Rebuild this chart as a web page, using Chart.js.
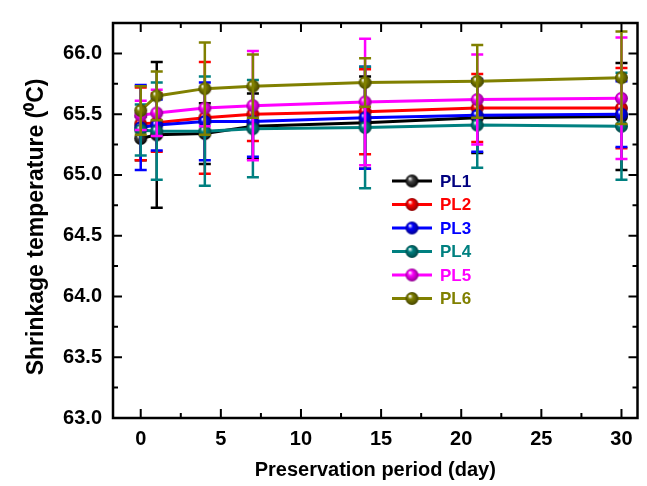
<!DOCTYPE html>
<html>
<head>
<meta charset="utf-8">
<script src="https://cdn.jsdelivr.net/npm/chart.js@4.4.1/dist/chart.umd.min.js"></script>
<style>
  html, body { margin: 0; padding: 0; background: #fff; }
</style>
</head>
<body>
<canvas id="chart" width="647" height="486"></canvas>
<script>
// data
const days = [0, 1, 4, 7, 14, 21, 30];
const names = ["PL1", "PL2", "PL3", "PL4", "PL5", "PL6"];

const pl1 = [65.30, 65.33, 65.34, 65.40, 65.43, 65.47, 65.48];
const pl2 = [65.42, 65.43, 65.47, 65.50, 65.52, 65.55, 65.55];
const pl3 = [65.39, 65.41, 65.44, 65.44, 65.47, 65.49, 65.50];
const pl4 = [65.37, 65.36, 65.36, 65.38, 65.39, 65.41, 65.40];
const pl5 = [65.49, 65.51, 65.55, 65.57, 65.60, 65.62, 65.63];
const pl6 = [65.53, 65.65, 65.71, 65.73, 65.76, 65.77, 65.80];

// error bars (+/-)
const pl1Err = [0.18, 0.60, 0.25, 0.27, 0.38, 0.29, 0.44];
const pl2Err = [0.30, 0.24, 0.46, 0.22, 0.35, 0.28, 0.33];
const pl3Err = [0.35, 0.21, 0.32, 0.29, 0.42, 0.30, 0.27];
const pl4Err = [0.21, 0.40, 0.45, 0.40, 0.50, 0.35, 0.44];
const pl5Err = [0.12, 0.19, 0.15, 0.45, 0.52, 0.37, 0.50];
const pl6Err = [0.20, 0.20, 0.38, 0.26, 0.20, 0.30, 0.38];

const xTicks = [0, 5, 10, 15, 20, 25, 30];
const yTicks = [63.0, 63.5, 64.0, 64.5, 65.0, 65.5, 66.0];

const values = [pl1, pl2, pl3, pl4, pl5, pl6];
const errors = [pl1Err, pl2Err, pl3Err, pl4Err, pl5Err, pl6Err];
const colors = ["#000000", "#ff0000", "#0000ff", "#008080", "#ff00ff", "#808000"];
const labelColors = ["#000080", "#ff0000", "#0000ff", "#008080", "#ff00ff", "#808000"];

const FONT = "'Liberation Sans', Arial, sans-serif";

// shaded ball marker
function darker(hex, f) {
  const n = parseInt(hex.slice(1), 16);
  const r = Math.round(((n >> 16) & 255) * f);
  const g = Math.round(((n >> 8) & 255) * f);
  const b = Math.round((n & 255) * f);
  return `rgb(${r},${g},${b})`;
}

function makeBall(color, r) {
  const c = document.createElement("canvas");
  const s = Math.ceil(r * 2 + 2);
  c.width = s;
  c.height = s;
  const g = c.getContext("2d");
  const cx = s / 2, cy = s / 2;
  const grad = g.createRadialGradient(cx - r * 0.35, cy - r * 0.4, r * 0.05, cx, cy, r);
  grad.addColorStop(0, "#ffffff");
  grad.addColorStop(0.35, color === "#000000" ? "#444444" : color);
  grad.addColorStop(1, darker(color, 0.55));
  g.fillStyle = grad;
  g.beginPath();
  g.arc(cx, cy, r, 0, Math.PI * 2);
  g.fill();
  return c;
}

const balls = colors.map(c => makeBall(c, 6.5));

// error bars, drawn right after each series
const errorBars = {
  id: "errorBars",
  afterDatasetDraw(chart, args) {
    const ds = chart.data.datasets[args.index];
    const y = chart.scales.y;
    const ctx = chart.ctx;
    ctx.save();
    ctx.strokeStyle = ds.borderColor;
    ctx.lineWidth = 2.5;
    args.meta.data.forEach((pt, i) => {
      const v = ds.data[i].y;
      const e = ds.errors[i];
      const top = y.getPixelForValue(v + e);
      const bot = y.getPixelForValue(v - e);
      ctx.beginPath();
      ctx.moveTo(pt.x, top);
      ctx.lineTo(pt.x, bot);
      ctx.moveTo(pt.x - 6, top);
      ctx.lineTo(pt.x + 6, top);
      ctx.moveTo(pt.x - 6, bot);
      ctx.lineTo(pt.x + 6, bot);
      ctx.stroke();
    });
    ctx.restore();
  }
};

// box frame with inward ticks on all four sides
const frame = {
  id: "frame",
  afterDatasetsDraw(chart) {
    const { ctx, chartArea: a, scales } = chart;
    const xs = scales.x, ys = scales.y;
    ctx.save();
    ctx.strokeStyle = "#000";
    ctx.lineWidth = 2;
    ctx.beginPath();
    xs.ticks.forEach((t, i) => {
      const px = xs.getPixelForValue(t.value);
      ctx.moveTo(px, a.bottom); ctx.lineTo(px, a.bottom - 9);
      ctx.moveTo(px, a.top); ctx.lineTo(px, a.top + 9);
      if (i < xs.ticks.length - 1) {
        const mx = xs.getPixelForValue((t.value + xs.ticks[i + 1].value) / 2);
        ctx.moveTo(mx, a.bottom); ctx.lineTo(mx, a.bottom - 5);
        ctx.moveTo(mx, a.top); ctx.lineTo(mx, a.top + 5);
      }
    });
    ys.ticks.forEach((t, i) => {
      const py = ys.getPixelForValue(t.value);
      ctx.moveTo(a.left, py); ctx.lineTo(a.left + 9, py);
      ctx.moveTo(a.right, py); ctx.lineTo(a.right - 9, py);
      const next = i < ys.ticks.length - 1 ? ys.ticks[i + 1].value : t.value + 0.5;
      const my = ys.getPixelForValue((t.value + next) / 2);
      if (my > a.top) {
        ctx.moveTo(a.left, my); ctx.lineTo(a.left + 5, my);
        ctx.moveTo(a.right, my); ctx.lineTo(a.right - 5, my);
      }
    });
    ctx.stroke();
    ctx.lineWidth = 2.5;
    ctx.strokeRect(a.left, a.top, a.right - a.left, a.bottom - a.top);
    ctx.restore();
  }
};

// legend inside the plot
const innerLegend = {
  id: "innerLegend",
  afterDraw(chart) {
    const ctx = chart.ctx;
    const x0 = 392, y0 = 181, step = 23.5;
    ctx.save();
    ctx.font = `bold 17px ${FONT}`;
    ctx.textBaseline = "middle";
    chart.data.datasets.forEach((ds, i) => {
      const y = y0 + i * step;
      ctx.strokeStyle = ds.borderColor;
      ctx.lineWidth = 3;
      ctx.beginPath();
      ctx.moveTo(x0, y);
      ctx.lineTo(x0 + 40, y);
      ctx.stroke();
      const b = balls[i];
      ctx.drawImage(b, x0 + 20 - b.width / 2, y - b.height / 2);
      ctx.fillStyle = labelColors[i];
      ctx.fillText(ds.label, x0 + 48, y + 1);
    });
    ctx.restore();
  }
};

const datasets = names.map((name, i) => ({
  label: name,
  data: days.map((d, j) => ({ x: d, y: values[i][j] })),
  errors: errors[i],
  borderColor: colors[i],
  backgroundColor: colors[i],
  borderWidth: 3,
  pointStyle: balls[i],
  pointRadius: 6.5,
  tension: 0,
  order: names.length - 1 - i,
}));

new Chart(document.getElementById("chart"), {
  type: "line",
  data: { datasets },
  plugins: [errorBars, frame, innerLegend],
  options: {
    responsive: false,
    animation: false,
    devicePixelRatio: 1,
    layout: { padding: { top: 13, right: 4, left: 0, bottom: 0 } },
    plugins: {
      legend: { display: false },
      tooltip: { enabled: false },
    },
    scales: {
      x: {
        type: "linear",
        min: -1.73,
        max: 31,
        afterBuildTicks: s => { s.ticks = xTicks.map(v => ({ value: v })); },
        afterFit: s => { s.height = 68; },
        grid: { display: false, drawTicks: false },
        border: { display: false },
        ticks: {
          autoSkip: false,
          maxRotation: 0,
          padding: 9,
          color: "#000",
          font: { family: FONT, size: 20, weight: "bold" },
          callback: v => String(v),
        },
        title: {
          display: true,
          text: "Preservation period (day)",
          color: "#000",
          font: { family: FONT, size: 20, weight: "bold" },
          padding: { top: 0, bottom: 4 },
        },
      },
      y: {
        min: 63,
        max: 66.25,
        afterBuildTicks: s => { s.ticks = yTicks.map(v => ({ value: v })); },
        afterFit: s => { s.width = 113; },
        grid: { display: false, drawTicks: false },
        border: { display: false },
        ticks: {
          padding: 11,
          color: "#000",
          font: { family: FONT, size: 20, weight: "bold" },
          callback: v => Number(v).toFixed(1),
        },
        title: {
          display: true,
          text: "Shrinkage temperature (\u2070C)  ",
          color: "#000",
          font: { family: FONT, size: 23, weight: "bold" },
          padding: { top: 23, bottom: 0 },
        },
      },
    },
  },
});
</script>
</body>
</html>
